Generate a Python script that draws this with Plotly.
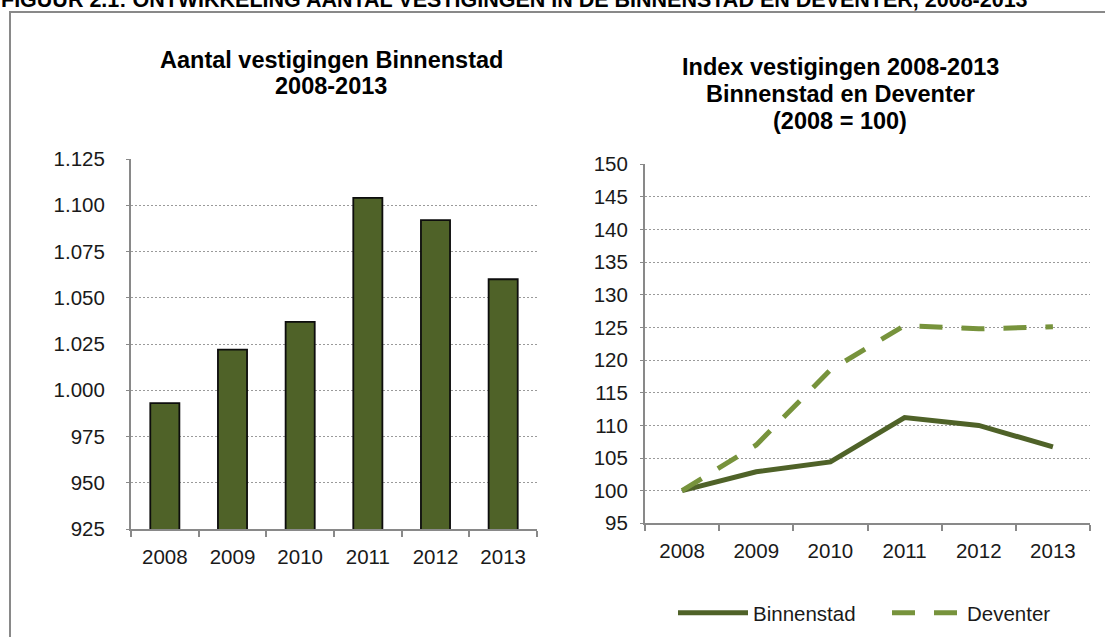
import plotly.graph_objects as go
from plotly.subplots import make_subplots

jaren = ['2008', '2009', '2010', '2011', '2012', '2013']
vestigingen_binnenstad = [993, 1022, 1037, 1104, 1092, 1060]
index_binnenstad = [100, 102.9, 104.4, 111.2, 110.0, 106.7]
index_deventer = [100, 107.0, 118.5, 125.3, 124.8, 125.1]

titel_links = ['Aantal vestigingen Binnenstad', '2008-2013']
titel_rechts = ['Index vestigingen 2008-2013', 'Binnenstad en Deventer', '(2008 = 100)']
figuur_titel = 'FIGUUR 2.1: ONTWIKKELING AANTAL VESTIGINGEN IN DE BINNENSTAD EN DEVENTER, 2008-2013'

W, H = 1105, 637
FONT = 'Liberation Sans, Arial, sans-serif'
DONKER = '#4F6228'
LICHT = '#77933C'
GRIJS = '#898989'

fig = make_subplots(rows=1, cols=2)

fig.add_trace(go.Bar(
    x=jaren, y=vestigingen_binnenstad,
    marker=dict(color=DONKER, line=dict(color='#0d0d0d', width=1.8)),
    showlegend=False
), row=1, col=1)

fig.add_trace(go.Scatter(
    x=jaren, y=index_binnenstad, name='Binnenstad', mode='lines',
    line=dict(color=DONKER, width=5), legend='legend'
), row=1, col=2)

fig.add_trace(go.Scatter(
    x=jaren, y=index_deventer, name='Deventer', mode='lines',
    line=dict(color=LICHT, width=5, dash='23px,19px'), legend='legend2'
), row=1, col=2)

as_stijl = dict(
    showline=True, linecolor=GRIJS, linewidth=2, automargin=False,
    tickfont=dict(family=FONT, size=20.5, color='#1a1a1a'),
)

fig.update_xaxes(**as_stijl, type='category', tickson='boundaries',
                 ticks='outside', ticklen=6, tickcolor=GRIJS, tickwidth=1.5,
                 showgrid=False, ticklabelstandoff=8)
fig.update_yaxes(**as_stijl, showgrid=True, gridcolor='#9a9a9a',
                 griddash='2px,2px', gridwidth=1, zeroline=False,
                 ticks='outside', ticklen=3, tickcolor=GRIJS)

fig.update_xaxes(domain=[131 / W, 537 / W], row=1, col=1)
fig.update_yaxes(domain=[1 - 529 / H, 1 - 159 / H], range=[925, 1125],
                 dtick=25, tickformat=',d', ticklabelstandoff=17, row=1, col=1)
fig.update_xaxes(domain=[645 / W, 1090 / W], range=[-0.5, 5.5], row=1, col=2)
fig.update_yaxes(domain=[1 - 523.3 / H, 1 - 164.3 / H], range=[95, 150],
                 dtick=5, ticklabelstandoff=8, row=1, col=2)

annotaties = [dict(text='<b>' + figuur_titel + '</b>',
                   xref='paper', yref='paper', x=-1 / W, y=1.0,
                   xanchor='left', yanchor='middle', showarrow=False,
                   font=dict(size=21.5, family=FONT, color='black'))]
for i, regel in enumerate(titel_links):
    annotaties.append(dict(text='<b>' + regel + '</b>', xref='paper', yref='paper',
                           x=331 / W, y=1 - (60 + 26 * i) / H,
                           xanchor='center', yanchor='middle', showarrow=False,
                           font=dict(size=23.5, family=FONT, color='black')))
for i, regel in enumerate(titel_rechts):
    annotaties.append(dict(text='<b>' + regel + '</b>', xref='paper', yref='paper',
                           x=840 / W, y=1 - (67 + 27 * i) / H,
                           xanchor='center', yanchor='middle', showarrow=False,
                           font=dict(size=23.5, family=FONT, color='black')))

legenda = dict(orientation='h', y=1 - 613 / H, xanchor='left', yanchor='middle',
               font=dict(size=20.5, family=FONT, color='#1a1a1a'),
               itemwidth=70, bgcolor='rgba(0,0,0,0)')

fig.update_layout(
    template='none',
    width=W, height=H,
    margin=dict(l=0, r=0, t=0, b=0),
    paper_bgcolor='white', plot_bgcolor='white',
    separators=',.',
    bargap=0.57,
    font=dict(family=FONT, color='#1a1a1a'),
    legend=dict(legenda, x=673 / W),
    legend2=dict(legenda, x=887 / W),
    shapes=[dict(type='rect', xref='paper', yref='paper',
                 x0=10 / W, x1=1.02, y0=-0.02, y1=1 - 12 / H,
                 line=dict(color=GRIJS, width=2))],
    annotations=annotaties,
)

fig.write_html('out.html', config={'displayModeBar': False},
               post_script="document.body.style.margin='0';")
